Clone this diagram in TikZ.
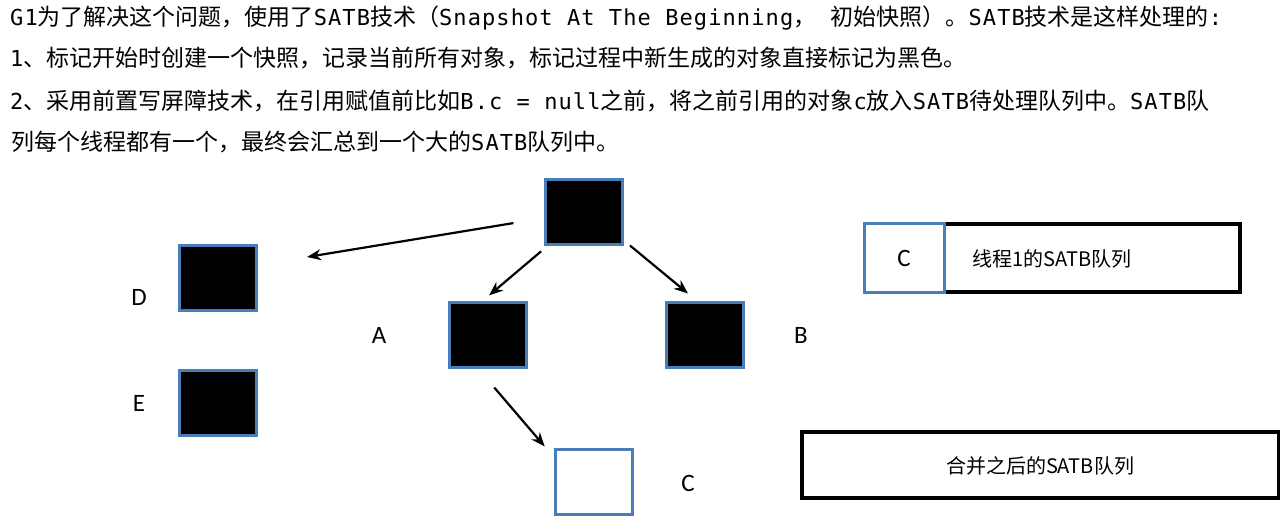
\documentclass[tikz,border=0pt]{standalone}
\usepackage{fontspec}
\usepackage{tikz}
\usetikzlibrary{arrows.meta,positioning,calc}
\newfontfamily\cjk{Noto Sans CJK SC}
\newfontfamily\mono[LetterSpace=5]{DejaVu Sans Mono}
\newfontfamily\lbl{Carlito}
\newcommand{\zh}[1]{{\cjk\fontsize{23}{27}\selectfont #1}}
\newcommand{\en}[1]{{\mono\fontsize{22}{26}\selectfont #1}}
\definecolor{objBlue}{HTML}{4A7EBB}
\tikzset{
  objnode/.style={
    draw=objBlue, line width=3pt, fill=black, inner sep=0pt,
    minimum width=77pt, minimum height=65pt
  },
  whitenode/.style={objnode, fill=white},
  objlabel/.style={font=\lbl\fontsize{25}{28}\selectfont, inner sep=0pt},
  textline/.style={anchor=base west, inner sep=0pt},
  queuebox/.style={draw=black, line width=3.2pt, fill=white, inner sep=0pt},
  queuetext/.style={font=\cjk\fontsize{20}{24}\selectfont, inner sep=0pt},
  objarrow/.style={-{Stealth[length=14pt,width=11pt]}, line width=2.2pt}
}
\begin{document}
\begin{tikzpicture}[x=1pt, y=-1pt]
  \useasboundingbox[fill=white] (0,0) rectangle (1280,530);
  % explanation text
  \node[textline] (line1) at (10,25) {\en{G1}\zh{为了解决这个问题，使用了}\en{SATB}\zh{技术（}\en{Snapshot At The Beginning}\zh{，}\en{ }\zh{初始快照）。}\en{SATB}\zh{技术是这样处理的}\en{:}};
  \node[textline] (line2) at (10,66) {\en{1}\zh{、标记开始时创建一个快照，记录当前所有对象，标记过程中新生成的对象直接标记为黑色。}};
  \node[textline] (line3) at (10,109) {\en{2}\zh{、采用前置写屏障技术，在引用赋值前比如}\en{B.c = null}\zh{之前，将之前引用的对象}\en{c}\zh{放入}\en{SATB}\zh{待处理队列中。}\en{SATB}\zh{队}};
  \node[textline] (line4) at (11,150) {\zh{列每个线程都有一个，最终会汇总到一个大的}\en{SATB}\zh{队列中。}};
  % object graph
  \node[objnode] (root) at (584,211.5) {};
  \node[objnode] (objD) at (218,278) {};
  \node[objnode] (objE) at (218,403) {};
  \node[objnode] (objA) at (488,334.5) {};
  \node[objnode] (objB) at (705,334.5) {};
  \node[whitenode] (objC) at (594,482) {};
  \node[objlabel] (labD) at (139,297) {D};
  \node[objlabel] (labE) at (139,403) {E};
  \node[objlabel] (labA) at (379,335) {A};
  \node[objlabel] (labB) at (801,335) {B};
  \node[objlabel] (labC) at (688,483) {C};
  \coordinate (dEnd) at (307,257);
  \draw[objarrow, shorten <=31pt] (root) -- (dEnd);
  \draw[objarrow, shorten <=9pt, shorten >=8pt] ([xshift=4pt]root.south west) -- ([xshift=-5pt]objA.north);
  \draw[objarrow, shorten <=0pt, shorten >=11pt] ([xshift=6pt]root.south east) -- ([xshift=-8.5pt]objB.north);
  \draw[objarrow, shorten <=25pt, shorten >=2pt] ([xshift=-10pt]objA.south) -- ([xshift=-8pt]objC.north west);
  % SATB queues
  \node[queuebox, minimum width=375pt, minimum height=68pt] (queue1) at (1052.5,258) {};
  \node[whitenode, minimum width=80pt, minimum height=68.5pt] (cell1) at (904,258) {};
  \node[objlabel] (cellC) at (cell1) {C};
  \node[queuetext, anchor=west] (queue1txt) at (972,259) {线程1的SATB队列};
  \node[queuebox, minimum width=477pt, minimum height=66pt] (merged) at (1040.5,465) {};
  \node[queuetext] (mergedtxt) at (1040,466) {合并之后的SATB队列};
\end{tikzpicture}
\end{document}
